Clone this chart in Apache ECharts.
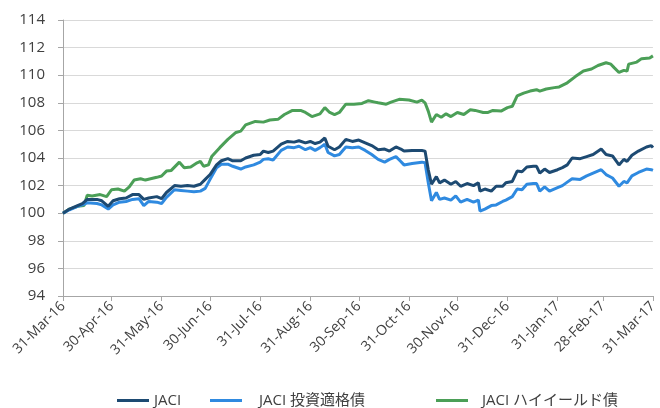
<!DOCTYPE html>
<html>
<head>
<meta charset="utf-8">
<script src="https://cdn.jsdelivr.net/npm/echarts@6/dist/echarts.min.js"></script>
<style>
  html, body { margin: 0; padding: 0; background: #fff; }
  #chart { width: 660px; height: 408px; }
</style>
</head>
<body>
<div id="chart"></div>
<script>
// x は 2016/3/31 からの経過日数
const tickDays = [0, 30, 61, 91, 122, 153, 183, 214, 244, 275, 306, 334, 365]
const tickLabels = ['31-Mar-16', '30-Apr-16', '31-May-16', '30-Jun-16', '31-Jul-16', '31-Aug-16',
  '30-Sep-16', '31-Oct-16', '30-Nov-16', '31-Dec-16', '31-Jan-17', '28-Feb-17', '31-Mar-17']

const seriesNames = ['JACI', 'JACI 投資適格債', 'JACI ハイイールド債']

// JACI と 投資適格債 は同じ日付で読み取り
const jaciDays = [0, 4, 9, 12, 15, 21, 24, 28, 31, 35, 39, 43, 47, 50, 53, 58, 61, 64, 69, 73, 77, 81, 85, 88,
  91, 95, 98, 102, 105, 110, 113, 118, 122, 124, 127, 130, 135, 139, 143, 146, 150, 153, 156, 159, 162, 164,
  168, 171, 175, 179, 183, 187, 191, 195, 199, 202, 206, 209, 211, 216, 222, 224, 226, 228, 231, 233, 236,
  240, 243, 246, 250, 254, 257, 258, 261, 265, 268, 272, 274, 278, 281, 284, 287, 291, 293, 295, 298, 301,
  306, 309, 312, 315, 320, 324, 328, 333, 336, 340, 344, 347, 349, 352, 356, 361, 364, 365]

const jaci = [100.0, 100.3, 100.55, 100.7, 101.0, 101.0, 100.9, 100.5, 100.9, 101.05, 101.1, 101.35, 101.35,
  101.0, 101.1, 101.2, 101.05, 101.5, 102.0, 101.95, 102.0, 101.95, 102.1, 102.45,
  102.8, 103.5, 103.8, 103.95, 103.8, 103.8, 104.0, 104.2, 104.25, 104.5, 104.4, 104.5, 105.0, 105.2, 105.15,
  105.25, 105.1, 105.2, 105.05, 105.15, 105.45, 104.85,
  104.6, 104.8, 105.35, 105.2, 105.3, 105.1, 104.9, 104.6, 104.65, 104.5, 104.8, 104.65, 104.5, 104.55, 104.55,
  104.5, 103.15, 102.1, 102.65, 102.2, 102.4,
  102.1, 102.3, 101.95, 102.15, 102.0, 102.2, 101.6, 101.75, 101.6, 101.95, 101.95, 102.2, 102.3, 103.05, 103.0,
  103.35, 103.4, 103.4, 102.9, 103.2, 102.95,
  103.15, 103.3, 103.5, 104.0, 103.95, 104.1, 104.25, 104.65, 104.25, 104.15, 103.5, 103.9, 103.75, 104.2,
  104.5, 104.8, 104.9, 104.75]

const jaciIG = [100.0, 100.25, 100.5, 100.6, 100.75, 100.7, 100.6, 100.3, 100.6, 100.8, 100.85, 101.0, 101.05,
  100.55, 100.85, 100.8, 100.7, 101.15, 101.7, 101.65, 101.6, 101.55, 101.6, 101.8,
  102.45, 103.3, 103.55, 103.55, 103.4, 103.2, 103.35, 103.5, 103.7, 103.9, 103.95, 103.85, 104.55, 104.8,
  104.75, 104.85, 104.6, 104.75, 104.55, 104.75, 105.0, 104.4,
  104.15, 104.25, 104.8, 104.75, 104.8, 104.55, 104.25, 103.9, 103.7, 103.9, 104.1, 103.75, 103.5, 103.6, 103.7,
  103.65, 102.2, 100.9, 101.5, 101.0, 101.1,
  100.95, 101.25, 100.8, 101.0, 100.8, 100.95, 100.15, 100.3, 100.55, 100.6, 100.85, 100.95, 101.2, 101.75,
  101.7, 102.1, 102.15, 102.15, 101.6, 101.9, 101.6,
  101.85, 102.0, 102.25, 102.5, 102.45, 102.7, 102.9, 103.15, 102.8, 102.55, 101.95, 102.3, 102.2, 102.7,
  102.95, 103.2, 103.15, 103.1]

const hyDays = [0, 4, 9, 13, 15, 18, 23, 27, 30, 34, 38, 41, 44, 48, 51, 58, 61, 64, 67, 72, 75, 79, 83, 85, 87,
  90, 92, 97, 102, 107, 110, 113, 119, 124, 128, 133, 137, 142, 147, 150, 154, 159, 162, 165, 168, 171, 175,
  180, 185, 189, 193, 195, 200, 203, 208, 214, 219, 222, 224, 226, 228, 231, 234, 237, 240, 244, 248, 252,
  255, 260, 263, 266, 271, 275, 278, 281, 285, 289, 293, 295, 299, 304, 307, 312, 317, 322, 327, 331, 336,
  339, 341, 344, 347, 349, 350, 355, 358, 363, 365]

const jaciHY = [100.0, 100.3, 100.5, 100.55, 101.3, 101.25, 101.35, 101.2, 101.7, 101.75, 101.6, 101.9, 102.4,
  102.5, 102.4, 102.6, 102.7, 103.05, 103.1, 103.7, 103.3, 103.35, 103.65, 103.75, 103.4,
  103.5, 104.1, 104.75, 105.35, 105.85, 105.95, 106.4, 106.65, 106.6, 106.75, 106.8, 107.15, 107.45, 107.45,
  107.3, 107.0, 107.2, 107.65, 107.3, 107.15, 107.3, 107.9,
  107.9, 107.95, 108.15, 108.05, 108.0, 107.9, 108.05, 108.25, 108.2, 108.05, 108.2, 108.0, 107.4, 106.6,
  107.15, 106.95, 107.2, 107.0, 107.3, 107.15, 107.5,
  107.45, 107.3, 107.3, 107.45, 107.4, 107.65, 107.75, 108.5, 108.7, 108.85, 108.95, 108.85, 109.0, 109.1,
  109.15, 109.45, 109.9, 110.3, 110.45, 110.7, 110.9,
  110.8, 110.55, 110.2, 110.35, 110.3, 110.8, 110.95, 111.2, 111.25, 111.4]

const colors = ['#1d4a72', '#2f8ae0', '#4b9f57']
const font = "'Open Sans', 'Noto Sans CJK JP', sans-serif"

function pairs(days, vals) {
  return days.map((d, i) => [d, vals[i]])
}

function lineSeries(name, days, vals, color) {
  return {
    type: 'line',
    name,
    data: pairs(days, vals),
    showSymbol: false,
    symbol: 'none',
    color,
    lineStyle: { color, width: 3 },
    silent: true,
  }
}

function legendAt(name, left, gap) {
  return {
    data: [name],
    left,
    top: 388,
    icon: 'rect',
    itemWidth: 32,
    itemHeight: 3,
    selectedMode: false,
    textStyle: { fontFamily: font, fontSize: 15, color: '#404040', padding: [0, 0, 0, gap] },
  }
}

const chart = echarts.init(document.getElementById('chart'))
chart.setOption({
  animation: false,
  backgroundColor: '#fff',
  grid: { left: 63, right: 2, top: 20, bottom: 112, containLabel: false },
  legend: [
    legendAt(seriesNames[0], 112, 0),
    legendAt(seriesNames[1], 205, 12),
    legendAt(seriesNames[2], 431, 9),
  ],
  xAxis: {
    type: 'value',
    min: 0,
    max: 365,
    splitLine: { show: false },
    axisLine: { lineStyle: { color: '#a6a6a6', width: 1 } },
    axisTick: { show: true, length: 5, customValues: tickDays, lineStyle: { color: '#a6a6a6' } },
    axisLabel: {
      customValues: tickDays,
      rotate: 45,
      margin: 8,
      fontFamily: font,
      fontSize: 14,
      color: '#404040',
      formatter: v => tickLabels[tickDays.indexOf(v)] ?? '',
    },
  },
  yAxis: {
    type: 'value',
    min: 94,
    max: 114,
    interval: 2,
    axisLine: { show: true, lineStyle: { color: '#a6a6a6', width: 1 } },
    axisTick: { show: true, length: 5, lineStyle: { color: '#a6a6a6' } },
    splitLine: { lineStyle: { color: '#d9d9d9', width: 1 } },
    axisLabel: { margin: 18, fontFamily: font, fontSize: 15, color: '#404040' },
  },
  series: [
    lineSeries(seriesNames[2], hyDays, jaciHY, colors[2]),
    lineSeries(seriesNames[1], jaciDays, jaciIG, colors[1]),
    lineSeries(seriesNames[0], jaciDays, jaci, colors[0]),
  ],
})
</script>
</body>
</html>
